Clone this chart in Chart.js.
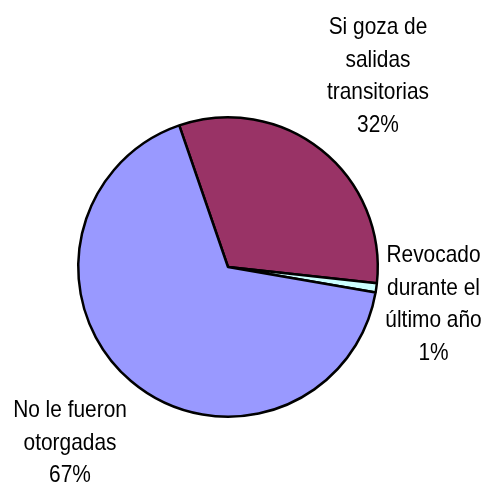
<!DOCTYPE html>
<html>
<head>
<meta charset="utf-8">
<script src="https://cdn.jsdelivr.net/npm/chart.js@4/dist/chart.umd.min.js"></script>
<style>
html,body{margin:0;padding:0;background:#fff;}
#wrap{width:485px;height:484px;position:relative;}
</style>
</head>
<body>
<div id="wrap"><canvas id="c" width="485" height="484"></canvas></div>
<script>
const categories = [
  ["Si goza de", "salidas", "transitorias"],
  ["Revocado", "durante el", "último año"],
  ["No le fueron", "otorgadas"]
];
const values = [32, 1, 67];
const colors = ["#993366", "#CCFFFF", "#9999FF"];

const labelPlugin = {
  id: 'sliceLabels',
  afterDatasetsDraw(chart, args, opts) {
    const ctx = chart.ctx;
    const meta = chart.getDatasetMeta(0);
    const data = chart.data.datasets[0].data;
    const total = data.reduce((a, b) => a + b, 0);
    ctx.save();
    ctx.font = opts.font;
    ctx.fillStyle = opts.color;
    ctx.textAlign = 'center';
    ctx.textBaseline = 'alphabetic';
    meta.data.forEach((arc, i) => {
      const lines = chart.data.labels[i].concat([Math.round(data[i] / total * 100) + '%']);
      const off = opts.offsets[i];
      const x = arc.x + off.dx;
      let y = arc.y + off.dy;
      lines.forEach(l => {
        ctx.save();
        ctx.translate(x, y);
        ctx.scale(opts.scaleX, 1);
        ctx.fillText(l, 0, 0);
        ctx.restore();
        y += opts.lineHeight;
      });
    });
    ctx.restore();
  }
};

new Chart(document.getElementById('c'), {
  type: 'pie',
  data: {
    labels: categories,
    datasets: [{
      data: values,
      backgroundColor: colors,
      borderColor: '#000000',
      borderWidth: 2.5
    }]
  },
  options: {
    responsive: false,
    animation: false,
    rotation: -19,
    layout: { padding: { left: 77, top: 116, right: 106, bottom: 66 } },
    plugins: {
      legend: { display: false },
      tooltip: { enabled: false },
      sliceLabels: {
        font: '24px "Liberation Sans", Arial, sans-serif',
        color: '#000000',
        scaleX: 0.87,
        lineHeight: 32.5,
        offsets: [
          { dx: 150, dy: -233 },
          { dx: 205.5, dy: -5 },
          { dx: -158, dy: 150 }
        ]
      }
    }
  },
  plugins: [labelPlugin]
});
</script>
</body>
</html>
